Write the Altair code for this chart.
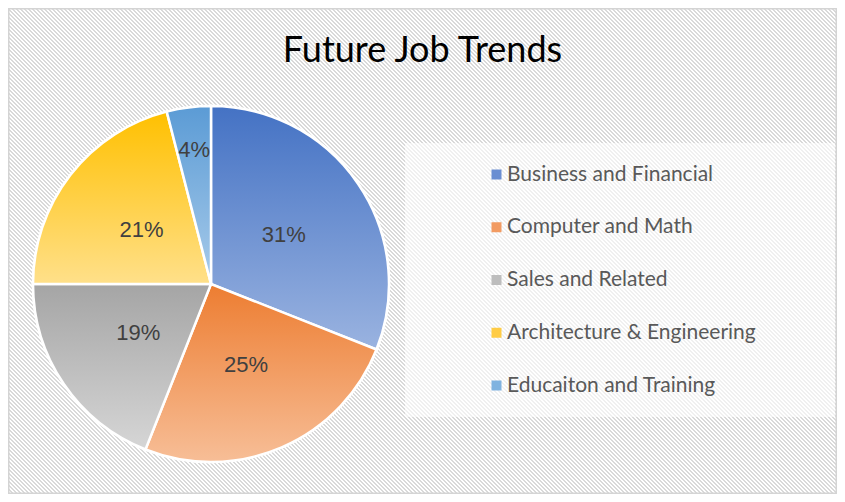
import altair as alt
import pandas as pd
import math

# ---- data ----
categories = ["Business and Financial", "Computer and Math", "Sales and Related",
              "Architecture & Engineering", "Educaiton and Training"]
shares = [31, 25, 19, 21, 4]
title_text = "Future Job Trends"

# ---- styles ----
top_colors = ["#4472C4", "#ED7D31", "#A5A5A5", "#FFC000", "#5B9BD5"]
bottom_colors = ["#9AB3E0", "#F7BE97", "#D6D6D6", "#FFE08A", "#A8CBEA"]
mid_colors = ["#6A8ED2", "#F29B62", "#BDBDBD", "#FFCC45", "#80B3E0"]

W, H = 829, 486
CX, CY, R = 203, 276, 178

df = pd.DataFrame({"category": categories, "share": shares, "order": list(range(len(categories)))})

theta_scale = alt.Scale(domain=[0, 100], range=[0, 2 * math.pi])

base = (
    alt.Chart(df)
    .transform_window(cum="sum(share)", sort=[alt.SortField("order")], frame=[None, 0])
    .transform_calculate(start="datum.cum - datum.share",
                         mid="datum.cum - datum.share / 2",
                         label="datum.share + '%'")
)

# diagonal ("\") hatch background built as a striped linear gradient,
# stripe edges placed half-way between pixel centres
r = H / W
k = (1 + r) / (1 + r * r)
span = float(W + H)
stops = [alt.GradientStop(offset=0.0, color="#ffffff")]
m = 0
cols = ["#ffffff", "#d9d9d9"]
while (2 * m + 0.5) / span < 1:
    b = (2 * m + 0.5) / span
    stops.append(alt.GradientStop(offset=b, color=cols[m % 2]))
    stops.append(alt.GradientStop(offset=b, color=cols[(m + 1) % 2]))
    m += 1
stops.append(alt.GradientStop(offset=1.0, color=cols[m % 2]))
hatch = alt.Gradient(gradient="linear", x1=0, y1=1, x2=k, y2=1 - k * r, stops=stops)

background = alt.Chart(pd.DataFrame({"bg": [0]})).mark_rect(
    fill=hatch, stroke="#d4d4d4", strokeWidth=3
).encode(x=alt.value(0), x2=alt.value(W), y=alt.value(0), y2=alt.value(H))

legend_layer = base.mark_arc(radius=R, stroke="white", strokeWidth=2.5).encode(
    theta=alt.Theta("start:Q", scale=theta_scale),
    theta2="cum:Q",
    x=alt.value(CX), y=alt.value(CY),
    color=alt.Color("category:N",
                    scale=alt.Scale(domain=categories, range=mid_colors),
                    sort=categories,
                    legend=alt.Legend(title=" ", titleOrient="right", titlePadding=58,
                                      orient="none", legendX=397, legendY=135,
                                      symbolType="square", symbolSize=100, symbolStrokeWidth=0,
                                      symbolOffset=60, labelOffset=0, labelLimit=500,
                                      labelFont="Lato", labelFontSize=21, labelColor="#595959",
                                      rowPadding=30.75, padding=21,
                                      fillColor="rgba(255,255,255,0.6)")),
)

slice_layers = []
for cat, c0, c1 in zip(categories, top_colors, bottom_colors):
    grad = alt.Gradient(gradient="linear",
                        stops=[alt.GradientStop(color=c0, offset=0),
                               alt.GradientStop(color=c1, offset=1)],
                        x1=0, y1=0, x2=0, y2=1)
    slice_layers.append(
        base.transform_filter(alt.datum.category == cat)
        .mark_arc(radius=R, fill=grad, stroke="white", strokeWidth=2.5)
        .encode(theta=alt.Theta("start:Q", scale=theta_scale), theta2="cum:Q",
                x=alt.value(CX), y=alt.value(CY))
    )

label_big = base.transform_filter(alt.datum.share >= 10).mark_text(
    radius=88, font="Liberation Sans", fontSize=22, color="#404040"
).encode(theta=alt.Theta("mid:Q", scale=theta_scale), text="label:N",
         x=alt.value(CX), y=alt.value(CY))

label_small = base.transform_filter(alt.datum.share < 10).mark_text(
    radius=135, font="Liberation Sans", fontSize=22, color="#404040"
).encode(theta=alt.Theta("mid:Q", scale=theta_scale), text="label:N",
         x=alt.value(CX), y=alt.value(CY))

chart = (
    alt.layer(background, legend_layer, *slice_layers, label_big, label_small)
    .properties(width=W, height=H, autosize=alt.AutoSizeParams(type="none"), padding=0,
                title=alt.TitleParams(title_text, font="Lato", fontSize=36, fontWeight="normal",
                                      color="#000000", anchor="middle", offset=-63))
    .configure_view(stroke=None)
    .configure(background="white")
)

chart.save("out.html", embed_options={"renderer": "svg", "actions": False})
